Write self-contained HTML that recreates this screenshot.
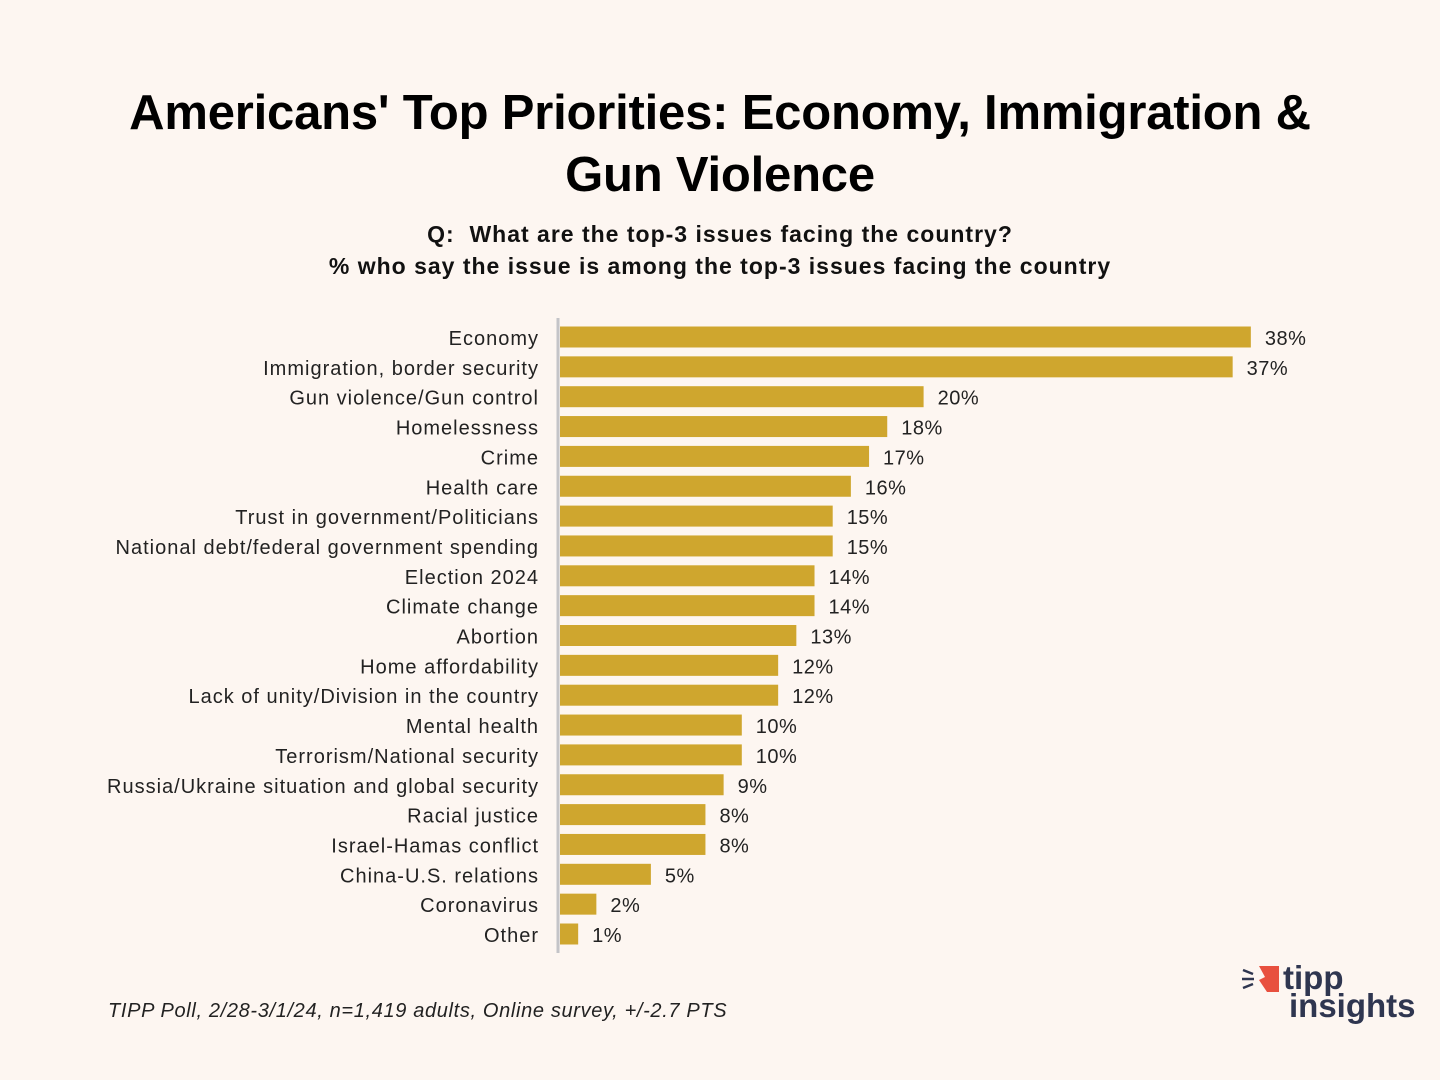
<!DOCTYPE html>
<html><head><meta charset="utf-8"><style>
body{margin:0;background:#fdf6f1;width:1440px;height:1080px;overflow:hidden;font-family:"Liberation Sans",sans-serif;}
.title{position:absolute;left:0;width:1440px;top:82px;text-align:center;font-size:49px;font-weight:bold;line-height:62px;color:#000;letter-spacing:-0.2px;}
.sub{position:absolute;left:0;width:1440px;top:218px;text-align:center;font-size:23px;font-weight:bold;line-height:32px;color:#111;letter-spacing:1px;}
.foot{position:absolute;left:108px;top:1000px;font-size:20px;font-style:italic;color:#222;letter-spacing:0.65px;}
</style></head><body>
<div class="title">Americans' Top Priorities: Economy, Immigration &amp;<br>Gun Violence</div>
<div class="sub">Q:&nbsp; What are the top-3 issues facing the country?<br>% who say the issue is among the top-3 issues facing the country</div>
<svg id="chart" width="1440" height="1080" style="position:absolute;left:0;top:0"></svg>
<div class="foot">TIPP Poll, 2/28-3/1/24, n=1,419 adults, Online survey, +/-2.7 PTS</div>
<svg width="190" height="70" style="position:absolute;left:1235px;top:958px">
<polygon points="24,8 44,8 44,34 32,34 24,22 30,19" fill="#e8503f"/>
<line x1="8" y1="12" x2="18" y2="16" stroke="#2f3650" stroke-width="2.5"/>
<line x1="7" y1="21" x2="19" y2="21" stroke="#2f3650" stroke-width="2.5"/>
<line x1="8" y1="30" x2="18" y2="26" stroke="#2f3650" stroke-width="2.5"/>
<text x="48" y="31" font-family="Liberation Sans" font-weight="bold" font-size="33" fill="#2f3650">tipp</text>
<text x="54" y="59" font-family="Liberation Sans" font-weight="bold" font-size="33" fill="#2f3650">insights</text>
</svg>
<script>
const categories=["Economy","Immigration, border security","Gun violence/Gun control","Homelessness","Crime","Health care","Trust in government/Politicians","National debt/federal government spending","Election 2024","Climate change","Abortion","Home affordability","Lack of unity/Division in the country","Mental health","Terrorism/National security","Russia/Ukraine situation and global security","Racial justice","Israel-Hamas conflict","China-U.S. relations","Coronavirus","Other"];
const values=[38,37,20,18,17,16,15,15,14,14,13,12,12,10,10,9,8,8,5,2,1];
const NS="http://www.w3.org/2000/svg";
const svg=document.getElementById('chart');
const x0=560,pxPer=18.18,y0=337,pitch=29.85,bh=21;
function xs(v){return x0+v*pxPer;}
function ys(i){return y0+i*pitch;}
function mk(t,a){const e=document.createElementNS(NS,t);for(const k in a)e.setAttribute(k,a[k]);svg.appendChild(e);return e;}
const ax=mk('line',{x1:558,x2:558,y1:318,y2:953,stroke:'#c4c4c8','stroke-width':3});


categories.forEach((c,i)=>{
  const v=values[i],cy=ys(i);
  const r=mk('rect',{x:x0,y:cy-bh/2,width:xs(v)-x0,height:bh,fill:'#cfa62e'});
  
  
  const l=mk('text',{x:539,y:cy+8,'text-anchor':'end','font-size':20,fill:'#222','font-family':'Liberation Sans','letter-spacing':'1px'});
  l.textContent=c;
  
  
  const t=mk('text',{x:xs(v)+14,y:cy+8,'font-size':20,fill:'#222','font-family':'Liberation Sans','letter-spacing':'0.5px'});
  t.textContent=v+'%';
  
  
});
</script>
</body></html>
